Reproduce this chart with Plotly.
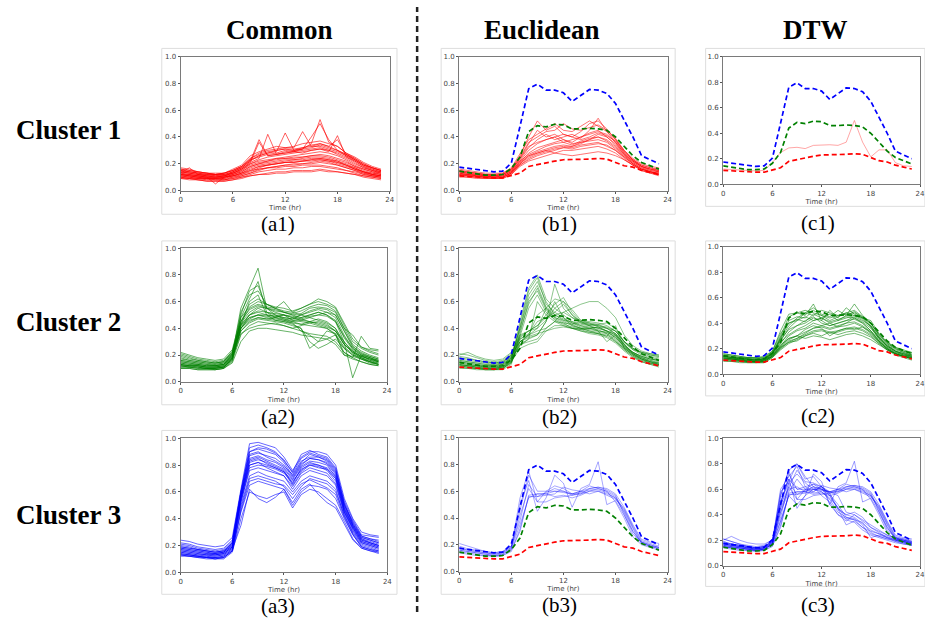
import plotly.graph_objects as go

W, H = 925, 621
HOURS = list(range(24))

# ---------------- data ----------------
centroid_blue = [0.175,0.165,0.155,0.145,0.14,0.145,0.205,0.48,0.76,0.795,0.75,0.75,0.73,0.665,0.71,0.755,0.75,0.725,0.65,0.53,0.40,0.26,0.23,0.20]
centroid_green = [0.145,0.135,0.125,0.115,0.115,0.12,0.165,0.25,0.44,0.485,0.475,0.495,0.49,0.46,0.46,0.465,0.46,0.45,0.40,0.33,0.26,0.21,0.185,0.16]
centroid_red = [0.11,0.105,0.10,0.095,0.095,0.095,0.11,0.13,0.18,0.195,0.21,0.22,0.23,0.23,0.23,0.235,0.24,0.235,0.21,0.185,0.175,0.15,0.135,0.12]

common_c1 = [
    [0.10,0.09,0.08,0.08,0.08,0.08,0.09,0.10,0.11,0.12,0.12,0.13,0.13,0.14,0.14,0.14,0.15,0.14,0.14,0.13,0.12,0.11,0.10,0.09],
    [0.12,0.11,0.10,0.10,0.09,0.10,0.11,0.13,0.15,0.16,0.17,0.17,0.18,0.18,0.19,0.19,0.19,0.18,0.17,0.15,0.14,0.12,0.11,0.10],
    [0.14,0.13,0.12,0.11,0.11,0.11,0.13,0.16,0.20,0.22,0.23,0.24,0.24,0.25,0.25,0.26,0.26,0.25,0.23,0.21,0.18,0.16,0.14,0.13],
    [0.16,0.15,0.14,0.13,0.12,0.13,0.15,0.18,0.24,0.27,0.29,0.30,0.31,0.31,0.32,0.33,0.33,0.31,0.29,0.26,0.23,0.19,0.17,0.15],
    [0.11,0.10,0.09,0.09,0.09,0.09,0.10,0.12,0.14,0.17,0.19,0.20,0.21,0.21,0.22,0.22,0.23,0.22,0.20,0.18,0.16,0.13,0.12,0.11],
    [0.13,0.12,0.11,0.10,0.10,0.11,0.14,0.17,0.22,0.38,0.26,0.27,0.28,0.29,0.28,0.30,0.31,0.30,0.27,0.24,0.20,0.17,0.15,0.13],
    [0.09,0.09,0.08,0.07,0.07,0.07,0.08,0.10,0.12,0.14,0.15,0.16,0.16,0.17,0.17,0.18,0.18,0.17,0.16,0.15,0.13,0.11,0.10,0.09],
    [0.15,0.14,0.13,0.12,0.12,0.12,0.14,0.17,0.23,0.25,0.27,0.28,0.30,0.29,0.31,0.35,0.53,0.36,0.33,0.28,0.24,0.20,0.17,0.15],
    [0.12,0.12,0.11,0.10,0.10,0.10,0.12,0.15,0.19,0.21,0.22,0.24,0.25,0.26,0.27,0.28,0.29,0.28,0.26,0.23,0.19,0.16,0.14,0.12],
    [0.17,0.16,0.14,0.13,0.13,0.13,0.16,0.19,0.26,0.29,0.31,0.33,0.32,0.33,0.35,0.36,0.37,0.35,0.33,0.28,0.25,0.21,0.18,0.16],
    [0.10,0.10,0.09,0.09,0.08,0.08,0.10,0.11,0.13,0.15,0.17,0.18,0.19,0.19,0.20,0.20,0.21,0.20,0.19,0.17,0.15,0.13,0.11,0.10],
    [0.14,0.13,0.12,0.12,0.11,0.12,0.13,0.16,0.21,0.24,0.42,0.27,0.28,0.29,0.30,0.31,0.32,0.30,0.28,0.25,0.22,0.18,0.16,0.14],
    [0.13,0.17,0.12,0.11,0.10,0.11,0.12,0.14,0.18,0.20,0.21,0.22,0.23,0.23,0.24,0.25,0.25,0.24,0.22,0.20,0.17,0.14,0.13,0.12],
    [0.11,0.10,0.10,0.09,0.09,0.09,0.11,0.13,0.17,0.19,0.20,0.21,0.22,0.23,0.23,0.24,0.24,0.23,0.22,0.19,0.17,0.14,0.12,0.11],
    [0.15,0.14,0.13,0.12,0.12,0.12,0.14,0.17,0.22,0.26,0.28,0.29,0.43,0.30,0.31,0.32,0.34,0.32,0.30,0.27,0.23,0.19,0.16,0.14],
    [0.12,0.11,0.10,0.10,0.05,0.10,0.11,0.13,0.16,0.18,0.19,0.20,0.21,0.22,0.22,0.23,0.24,0.23,0.21,0.19,0.16,0.14,0.12,0.11],
    [0.16,0.15,0.14,0.13,0.12,0.13,0.15,0.18,0.24,0.28,0.30,0.31,0.32,0.32,0.44,0.33,0.35,0.33,0.30,0.27,0.24,0.20,0.17,0.15],
    [0.10,0.09,0.09,0.08,0.08,0.08,0.09,0.11,0.13,0.16,0.17,0.18,0.19,0.20,0.20,0.21,0.22,0.21,0.19,0.17,0.15,0.12,0.11,0.10],
    [0.13,0.12,0.11,0.11,0.10,0.11,0.13,0.15,0.20,0.23,0.25,0.26,0.27,0.28,0.29,0.30,0.31,0.29,0.41,0.25,0.21,0.17,0.15,0.13],
    [0.14,0.13,0.12,0.11,0.11,0.11,0.13,0.16,0.21,0.36,0.26,0.27,0.29,0.30,0.31,0.40,0.50,0.38,0.30,0.26,0.22,0.18,0.15,0.14],
    [0.12,0.11,0.11,0.10,0.10,0.10,0.12,0.14,0.18,0.20,0.22,0.23,0.24,0.24,0.25,0.26,0.27,0.26,0.24,0.22,0.18,0.15,0.13,0.12],
    [0.09,0.08,0.08,0.07,0.07,0.07,0.08,0.09,0.11,0.12,0.13,0.14,0.14,0.15,0.15,0.15,0.16,0.15,0.14,0.13,0.12,0.10,0.09,0.08],
    [0.15,0.14,0.13,0.13,0.12,0.13,0.15,0.18,0.23,0.26,0.28,0.30,0.31,0.30,0.32,0.34,0.35,0.33,0.38,0.27,0.23,0.19,0.17,0.15],
    [0.11,0.11,0.10,0.09,0.09,0.10,0.11,0.12,0.15,0.18,0.19,0.20,0.21,0.21,0.22,0.23,0.23,0.22,0.21,0.19,0.16,0.14,0.12,0.11],
]

common_c2 = [
    [0.12,0.11,0.11,0.10,0.10,0.11,0.17,0.40,0.50,0.55,0.52,0.50,0.48,0.47,0.48,0.50,0.52,0.50,0.45,0.30,0.22,0.18,0.15,0.13],
    [0.15,0.14,0.13,0.12,0.12,0.13,0.20,0.55,0.70,0.85,0.55,0.50,0.47,0.45,0.43,0.45,0.47,0.45,0.40,0.28,0.23,0.19,0.17,0.15],
    [0.20,0.18,0.16,0.15,0.14,0.15,0.22,0.45,0.55,0.58,0.56,0.55,0.53,0.52,0.55,0.58,0.60,0.58,0.55,0.42,0.30,0.25,0.22,0.20],
    [0.10,0.10,0.09,0.09,0.09,0.10,0.15,0.35,0.42,0.45,0.44,0.43,0.42,0.40,0.38,0.36,0.35,0.34,0.30,0.22,0.18,0.15,0.13,0.12],
    [0.13,0.12,0.12,0.11,0.11,0.12,0.18,0.48,0.62,0.75,0.52,0.48,0.50,0.46,0.45,0.44,0.42,0.40,0.35,0.25,0.20,0.17,0.15,0.14],
    [0.17,0.16,0.15,0.14,0.13,0.14,0.21,0.42,0.50,0.52,0.50,0.49,0.50,0.48,0.50,0.53,0.55,0.54,0.50,0.38,0.26,0.22,0.19,0.17],
    [0.14,0.13,0.12,0.11,0.11,0.12,0.19,0.38,0.45,0.48,0.47,0.46,0.45,0.43,0.40,0.30,0.25,0.28,0.32,0.25,0.20,0.18,0.16,0.15],
    [0.11,0.11,0.10,0.10,0.10,0.11,0.16,0.50,0.68,0.72,0.55,0.52,0.50,0.48,0.46,0.45,0.44,0.42,0.38,0.28,0.22,0.18,0.15,0.13],
    [0.19,0.17,0.16,0.15,0.14,0.15,0.23,0.44,0.52,0.56,0.55,0.53,0.52,0.50,0.51,0.55,0.56,0.55,0.52,0.40,0.35,0.26,0.24,0.23],
    [0.12,0.12,0.11,0.10,0.10,0.11,0.17,0.36,0.40,0.42,0.43,0.44,0.42,0.40,0.42,0.44,0.45,0.43,0.38,0.30,0.03,0.20,0.16,0.14],
    [0.16,0.15,0.14,0.13,0.12,0.13,0.19,0.45,0.58,0.62,0.58,0.55,0.52,0.50,0.48,0.50,0.52,0.50,0.46,0.33,0.24,0.20,0.18,0.16],
    [0.13,0.12,0.12,0.11,0.11,0.11,0.18,0.40,0.47,0.50,0.48,0.47,0.46,0.44,0.38,0.35,0.30,0.32,0.35,0.22,0.18,0.34,0.25,0.24],
    [0.21,0.19,0.17,0.16,0.15,0.16,0.22,0.42,0.48,0.50,0.50,0.49,0.48,0.47,0.50,0.52,0.54,0.52,0.48,0.35,0.25,0.21,0.19,0.17],
    [0.10,0.10,0.09,0.09,0.09,0.10,0.14,0.30,0.38,0.40,0.40,0.39,0.38,0.37,0.35,0.34,0.33,0.32,0.28,0.20,0.17,0.15,0.13,0.12],
    [0.14,0.13,0.13,0.12,0.12,0.13,0.20,0.52,0.65,0.68,0.58,0.55,0.60,0.52,0.50,0.48,0.46,0.44,0.40,0.30,0.23,0.19,0.17,0.15],
    [0.15,0.14,0.13,0.12,0.12,0.13,0.19,0.40,0.48,0.50,0.49,0.48,0.47,0.46,0.47,0.49,0.50,0.49,0.45,0.34,0.25,0.20,0.18,0.16],
    [0.12,0.11,0.11,0.10,0.10,0.11,0.17,0.38,0.44,0.47,0.46,0.45,0.44,0.42,0.40,0.25,0.30,0.38,0.36,0.20,0.19,0.17,0.14,0.13],
    [0.18,0.16,0.15,0.14,0.14,0.15,0.21,0.45,0.54,0.57,0.55,0.54,0.52,0.51,0.53,0.56,0.58,0.57,0.53,0.40,0.28,0.23,0.20,0.18],
    [0.11,0.11,0.10,0.10,0.09,0.10,0.16,0.42,0.60,0.65,0.50,0.46,0.45,0.44,0.43,0.42,0.41,0.40,0.36,0.26,0.21,0.17,0.15,0.13],
    [0.16,0.15,0.14,0.13,0.13,0.14,0.20,0.43,0.50,0.53,0.52,0.51,0.50,0.49,0.47,0.45,0.43,0.41,0.38,0.28,0.22,0.19,0.17,0.16],
    [0.13,0.12,0.12,0.11,0.11,0.12,0.18,0.40,0.46,0.48,0.47,0.48,0.46,0.45,0.46,0.48,0.50,0.52,0.50,0.38,0.27,0.21,0.18,0.15],
    [0.22,0.20,0.18,0.17,0.16,0.17,0.24,0.48,0.56,0.60,0.58,0.56,0.55,0.53,0.55,0.58,0.62,0.60,0.56,0.44,0.32,0.26,0.23,0.21],
]

common_c3 = [
    [0.15,0.14,0.13,0.12,0.12,0.13,0.18,0.55,0.80,0.82,0.80,0.78,0.75,0.65,0.75,0.80,0.78,0.77,0.70,0.45,0.32,0.22,0.20,0.18],
    [0.20,0.19,0.17,0.16,0.15,0.16,0.22,0.60,0.90,0.92,0.90,0.88,0.82,0.72,0.82,0.88,0.86,0.84,0.76,0.50,0.38,0.27,0.25,0.23],
    [0.13,0.12,0.11,0.11,0.10,0.11,0.16,0.45,0.65,0.68,0.66,0.64,0.62,0.50,0.60,0.65,0.64,0.62,0.55,0.40,0.28,0.19,0.17,0.15],
    [0.18,0.17,0.16,0.15,0.14,0.15,0.20,0.58,0.85,0.87,0.84,0.82,0.78,0.70,0.80,0.85,0.84,0.82,0.74,0.48,0.35,0.25,0.22,0.20],
    [0.24,0.23,0.21,0.20,0.19,0.20,0.26,0.62,0.96,0.97,0.95,0.93,0.86,0.76,0.86,0.90,0.90,0.88,0.80,0.55,0.40,0.30,0.28,0.27],
    [0.14,0.13,0.12,0.12,0.11,0.12,0.17,0.50,0.72,0.75,0.72,0.70,0.68,0.60,0.68,0.72,0.70,0.68,0.62,0.42,0.30,0.21,0.19,0.17],
    [0.16,0.15,0.14,0.13,0.13,0.14,0.19,0.52,0.78,0.80,0.79,0.77,0.74,0.67,0.77,0.80,0.79,0.76,0.68,0.46,0.33,0.23,0.21,0.19],
    [0.12,0.12,0.11,0.10,0.10,0.10,0.15,0.40,0.60,0.57,0.55,0.58,0.60,0.48,0.58,0.62,0.60,0.55,0.50,0.38,0.25,0.18,0.16,0.14],
    [0.19,0.18,0.17,0.16,0.15,0.16,0.21,0.57,0.88,0.90,0.86,0.83,0.79,0.73,0.83,0.86,0.86,0.83,0.75,0.52,0.36,0.26,0.24,0.22],
    [0.17,0.16,0.15,0.14,0.13,0.14,0.19,0.55,0.82,0.84,0.82,0.79,0.76,0.66,0.78,0.82,0.80,0.78,0.72,0.47,0.34,0.24,0.22,0.20],
    [0.22,0.21,0.19,0.18,0.17,0.18,0.24,0.60,0.93,0.95,0.93,0.90,0.83,0.75,0.88,0.91,0.88,0.86,0.78,0.53,0.39,0.28,0.27,0.26],
    [0.13,0.13,0.12,0.11,0.11,0.11,0.16,0.48,0.70,0.72,0.70,0.68,0.64,0.55,0.64,0.70,0.68,0.66,0.60,0.43,0.29,0.20,0.18,0.16],
    [0.15,0.14,0.13,0.13,0.12,0.13,0.18,0.53,0.76,0.78,0.76,0.74,0.72,0.62,0.72,0.76,0.74,0.72,0.65,0.44,0.31,0.22,0.20,0.18],
    [0.18,0.17,0.16,0.15,0.14,0.15,0.21,0.56,0.84,0.86,0.83,0.80,0.77,0.69,0.79,0.83,0.82,0.80,0.71,0.49,0.35,0.25,0.23,0.21],
    [0.14,0.13,0.12,0.11,0.11,0.12,0.17,0.35,0.62,0.55,0.52,0.56,0.62,0.52,0.62,0.66,0.58,0.52,0.48,0.36,0.24,0.18,0.16,0.15],
    [0.21,0.20,0.18,0.17,0.16,0.17,0.23,0.60,0.90,0.93,0.92,0.89,0.84,0.74,0.85,0.89,0.87,0.85,0.77,0.51,0.37,0.27,0.25,0.24],
    [0.16,0.15,0.14,0.13,0.13,0.14,0.19,0.54,0.80,0.82,0.78,0.75,0.72,0.64,0.74,0.78,0.76,0.74,0.66,0.45,0.33,0.23,0.21,0.19],
    [0.13,0.12,0.12,0.11,0.10,0.11,0.16,0.46,0.68,0.70,0.68,0.66,0.65,0.58,0.66,0.69,0.66,0.63,0.58,0.41,0.28,0.19,0.17,0.16],
    [0.19,0.18,0.17,0.16,0.15,0.16,0.22,0.58,0.87,0.89,0.87,0.85,0.80,0.71,0.81,0.85,0.84,0.81,0.73,0.50,0.36,0.26,0.24,0.22],
    [0.17,0.16,0.15,0.14,0.14,0.15,0.20,0.56,0.83,0.85,0.81,0.78,0.75,0.68,0.76,0.81,0.80,0.77,0.70,0.47,0.34,0.24,0.22,0.20],
]

euclid_c1 = [
    [0.12,0.11,0.10,0.10,0.10,0.10,0.13,0.20,0.25,0.28,0.30,0.32,0.33,0.32,0.34,0.35,0.36,0.33,0.30,0.25,0.20,0.16,0.14,0.13],
    [0.14,0.13,0.12,0.11,0.11,0.12,0.15,0.24,0.35,0.45,0.40,0.42,0.38,0.36,0.40,0.43,0.45,0.40,0.34,0.27,0.22,0.18,0.16,0.15],
    [0.10,0.10,0.09,0.09,0.09,0.09,0.12,0.18,0.22,0.24,0.26,0.28,0.30,0.30,0.31,0.32,0.33,0.31,0.28,0.23,0.19,0.15,0.13,0.11],
    [0.15,0.14,0.13,0.12,0.12,0.13,0.16,0.26,0.40,0.52,0.45,0.48,0.42,0.40,0.44,0.50,0.52,0.46,0.38,0.29,0.23,0.19,0.17,0.16],
    [0.13,0.12,0.11,0.11,0.10,0.11,0.14,0.22,0.30,0.35,0.38,0.40,0.36,0.34,0.37,0.39,0.40,0.37,0.32,0.26,0.21,0.17,0.15,0.14],
    [0.11,0.11,0.10,0.10,0.09,0.10,0.13,0.19,0.23,0.26,0.28,0.30,0.32,0.33,0.35,0.38,0.40,0.38,0.33,0.26,0.20,0.16,0.14,0.12],
    [0.16,0.15,0.14,0.13,0.13,0.13,0.17,0.27,0.38,0.42,0.46,0.50,0.45,0.44,0.48,0.52,0.48,0.44,0.38,0.30,0.24,0.20,0.18,0.17],
    [0.12,0.12,0.11,0.10,0.10,0.10,0.13,0.21,0.28,0.32,0.34,0.36,0.38,0.35,0.36,0.38,0.42,0.40,0.35,0.27,0.21,0.17,0.14,0.13],
    [0.14,0.13,0.12,0.12,0.11,0.12,0.15,0.23,0.32,0.38,0.42,0.38,0.40,0.42,0.39,0.45,0.54,0.44,0.36,0.28,0.22,0.18,0.16,0.14],
    [0.11,0.10,0.10,0.09,0.09,0.09,0.12,0.19,0.24,0.27,0.29,0.31,0.32,0.31,0.33,0.34,0.35,0.34,0.30,0.24,0.19,0.15,0.13,0.12],
    [0.13,0.12,0.12,0.11,0.11,0.11,0.14,0.22,0.27,0.30,0.33,0.35,0.36,0.38,0.40,0.42,0.44,0.42,0.36,0.28,0.22,0.18,0.15,0.14],
    [0.15,0.14,0.13,0.12,0.12,0.12,0.16,0.25,0.36,0.40,0.44,0.45,0.50,0.46,0.45,0.47,0.49,0.45,0.39,0.30,0.23,0.19,0.17,0.15],
    [0.12,0.11,0.11,0.10,0.10,0.10,0.13,0.20,0.26,0.29,0.31,0.33,0.34,0.33,0.36,0.37,0.38,0.36,0.31,0.25,0.20,0.16,0.14,0.12],
    [0.14,0.13,0.13,0.12,0.11,0.12,0.15,0.24,0.33,0.36,0.38,0.40,0.42,0.40,0.38,0.40,0.43,0.41,0.37,0.29,0.23,0.18,0.16,0.15],
    [0.13,0.12,0.11,0.11,0.10,0.11,0.14,0.21,0.26,0.28,0.30,0.28,0.27,0.26,0.27,0.28,0.29,0.28,0.26,0.23,0.19,0.16,0.14,0.13],
]

euclid_c2 = [
    [0.13,0.12,0.11,0.10,0.10,0.11,0.16,0.45,0.70,0.80,0.62,0.55,0.50,0.45,0.42,0.40,0.39,0.36,0.30,0.25,0.20,0.17,0.15,0.14],
    [0.15,0.14,0.13,0.12,0.12,0.13,0.18,0.40,0.65,0.75,0.60,0.50,0.46,0.43,0.40,0.40,0.41,0.38,0.33,0.27,0.22,0.19,0.17,0.16],
    [0.12,0.11,0.10,0.10,0.09,0.10,0.15,0.30,0.35,0.40,0.55,0.62,0.60,0.50,0.45,0.42,0.40,0.38,0.35,0.28,0.21,0.18,0.15,0.13],
    [0.20,0.22,0.19,0.17,0.16,0.17,0.22,0.35,0.38,0.42,0.50,0.58,0.63,0.52,0.45,0.43,0.42,0.40,0.38,0.30,0.25,0.22,0.20,0.19],
    [0.14,0.13,0.12,0.11,0.11,0.12,0.17,0.28,0.30,0.32,0.40,0.45,0.44,0.43,0.45,0.44,0.43,0.40,0.36,0.28,0.22,0.18,0.16,0.14],
    [0.11,0.10,0.10,0.09,0.09,0.10,0.14,0.38,0.58,0.70,0.55,0.48,0.45,0.42,0.40,0.38,0.37,0.36,0.32,0.25,0.20,0.16,0.14,0.12],
    [0.16,0.15,0.14,0.13,0.13,0.14,0.19,0.30,0.33,0.35,0.45,0.73,0.55,0.48,0.44,0.43,0.42,0.41,0.38,0.30,0.24,0.20,0.18,0.17],
    [0.18,0.17,0.16,0.15,0.14,0.15,0.20,0.30,0.35,0.38,0.40,0.45,0.52,0.55,0.58,0.60,0.60,0.55,0.48,0.35,0.27,0.23,0.21,0.20],
    [0.13,0.12,0.11,0.11,0.10,0.11,0.16,0.42,0.68,0.78,0.58,0.52,0.48,0.44,0.41,0.40,0.38,0.37,0.34,0.26,0.21,0.17,0.15,0.13],
    [0.12,0.11,0.10,0.10,0.10,0.10,0.15,0.25,0.28,0.30,0.38,0.42,0.42,0.40,0.40,0.39,0.38,0.37,0.33,0.26,0.20,0.17,0.14,0.13],
    [0.17,0.16,0.15,0.14,0.13,0.14,0.19,0.32,0.36,0.45,0.48,0.52,0.58,0.50,0.44,0.42,0.43,0.44,0.40,0.30,0.25,0.21,0.19,0.18],
    [0.10,0.10,0.09,0.09,0.09,0.09,0.13,0.35,0.55,0.65,0.52,0.47,0.44,0.40,0.38,0.36,0.35,0.33,0.29,0.23,0.18,0.15,0.13,0.11],
    [0.14,0.13,0.12,0.12,0.11,0.12,0.17,0.27,0.32,0.60,0.50,0.45,0.42,0.40,0.38,0.37,0.36,0.34,0.42,0.25,0.21,0.18,0.16,0.15],
    [0.21,0.20,0.18,0.16,0.15,0.16,0.21,0.33,0.38,0.40,0.46,0.55,0.60,0.54,0.46,0.44,0.41,0.38,0.36,0.29,0.24,0.22,0.21,0.20],
    [0.12,0.12,0.11,0.10,0.10,0.11,0.15,0.28,0.32,0.35,0.45,0.60,0.48,0.42,0.40,0.38,0.36,0.34,0.30,0.24,0.19,0.16,0.14,0.13],
    [0.15,0.14,0.13,0.12,0.12,0.13,0.18,0.40,0.62,0.72,0.56,0.50,0.47,0.44,0.42,0.41,0.40,0.38,0.35,0.27,0.22,0.19,0.17,0.16],
    [0.13,0.12,0.12,0.11,0.11,0.11,0.16,0.30,0.34,0.36,0.38,0.40,0.41,0.40,0.39,0.40,0.41,0.40,0.36,0.28,0.21,0.17,0.15,0.14],
    [0.16,0.15,0.14,0.13,0.12,0.13,0.18,0.32,0.35,0.50,0.55,0.48,0.46,0.45,0.43,0.42,0.38,0.30,0.35,0.26,0.22,0.19,0.17,0.16],
    [0.11,0.11,0.10,0.09,0.09,0.10,0.14,0.36,0.60,0.68,0.54,0.46,0.43,0.41,0.39,0.37,0.36,0.35,0.31,0.24,0.19,0.15,0.13,0.12],
    [0.19,0.18,0.16,0.15,0.14,0.15,0.20,0.34,0.38,0.42,0.48,0.50,0.52,0.48,0.46,0.45,0.44,0.42,0.38,0.30,0.25,0.22,0.20,0.19],
]

euclid_c3 = [
    [0.21,0.19,0.17,0.15,0.14,0.15,0.19,0.45,0.72,0.60,0.60,0.60,0.59,0.58,0.60,0.62,0.63,0.62,0.58,0.48,0.35,0.24,0.22,0.21],
    [0.16,0.15,0.14,0.13,0.12,0.13,0.17,0.35,0.55,0.58,0.58,0.56,0.57,0.55,0.57,0.60,0.60,0.58,0.55,0.45,0.32,0.21,0.19,0.17],
    [0.18,0.16,0.15,0.14,0.13,0.14,0.18,0.50,0.68,0.45,0.55,0.72,0.66,0.48,0.62,0.65,0.82,0.50,0.53,0.42,0.30,0.22,0.20,0.18],
    [0.15,0.14,0.13,0.12,0.12,0.12,0.16,0.30,0.57,0.58,0.58,0.60,0.60,0.58,0.58,0.60,0.62,0.60,0.56,0.46,0.33,0.22,0.19,0.17],
    [0.17,0.16,0.15,0.14,0.13,0.14,0.18,0.55,0.75,0.52,0.52,0.55,0.56,0.57,0.59,0.61,0.61,0.59,0.55,0.44,0.30,0.21,0.19,0.18],
    [0.14,0.13,0.12,0.12,0.11,0.12,0.15,0.32,0.56,0.56,0.57,0.58,0.63,0.61,0.60,0.64,0.62,0.60,0.52,0.40,0.26,0.20,0.18,0.16],
    [0.16,0.15,0.14,0.13,0.12,0.13,0.17,0.42,0.62,0.52,0.60,0.64,0.62,0.58,0.60,0.58,0.60,0.57,0.54,0.47,0.34,0.23,0.21,0.19],
    [0.19,0.17,0.16,0.15,0.14,0.15,0.19,0.38,0.65,0.56,0.59,0.62,0.60,0.57,0.58,0.62,0.63,0.61,0.57,0.43,0.28,0.22,0.20,0.18],
]

dtw_c1 = [
    [0.12,0.115,0.11,0.105,0.105,0.11,0.17,0.25,0.285,0.29,0.28,0.305,0.31,0.31,0.305,0.33,0.50,0.33,0.215,0.27,0.27,0.17,0.145,0.14],
]

dtw_c2 = [
    [0.12,0.11,0.11,0.10,0.10,0.10,0.14,0.22,0.30,0.34,0.36,0.40,0.38,0.36,0.38,0.40,0.41,0.38,0.33,0.26,0.21,0.17,0.15,0.13],
    [0.14,0.13,0.12,0.12,0.11,0.12,0.16,0.28,0.42,0.45,0.44,0.50,0.46,0.42,0.45,0.48,0.50,0.45,0.38,0.29,0.23,0.19,0.17,0.15],
    [0.10,0.10,0.09,0.09,0.09,0.09,0.13,0.19,0.24,0.27,0.30,0.33,0.34,0.32,0.33,0.35,0.36,0.34,0.30,0.24,0.19,0.15,0.13,0.11],
    [0.15,0.14,0.13,0.13,0.12,0.13,0.17,0.30,0.45,0.48,0.46,0.55,0.42,0.50,0.44,0.52,0.47,0.44,0.40,0.30,0.24,0.20,0.18,0.16],
    [0.13,0.12,0.11,0.11,0.10,0.11,0.15,0.24,0.33,0.38,0.42,0.45,0.40,0.38,0.40,0.42,0.43,0.40,0.34,0.27,0.21,0.17,0.15,0.14],
    [0.11,0.11,0.10,0.10,0.09,0.10,0.14,0.20,0.26,0.28,0.32,0.36,0.38,0.40,0.37,0.40,0.44,0.40,0.34,0.26,0.20,0.16,0.14,0.12],
    [0.16,0.15,0.14,0.13,0.13,0.14,0.18,0.32,0.40,0.42,0.48,0.52,0.47,0.45,0.50,0.46,0.55,0.46,0.40,0.31,0.25,0.21,0.19,0.17],
    [0.12,0.12,0.11,0.10,0.10,0.10,0.14,0.23,0.28,0.30,0.35,0.38,0.36,0.30,0.34,0.36,0.35,0.37,0.33,0.26,0.20,0.16,0.14,0.13],
    [0.14,0.13,0.12,0.12,0.11,0.12,0.16,0.26,0.36,0.42,0.45,0.42,0.44,0.47,0.42,0.46,0.49,0.44,0.37,0.28,0.22,0.18,0.16,0.14],
    [0.11,0.10,0.10,0.09,0.09,0.09,0.13,0.20,0.25,0.28,0.31,0.34,0.35,0.33,0.34,0.36,0.37,0.35,0.31,0.25,0.20,0.16,0.14,0.12],
    [0.13,0.12,0.12,0.11,0.11,0.11,0.15,0.25,0.31,0.35,0.38,0.42,0.44,0.40,0.42,0.44,0.46,0.43,0.37,0.28,0.22,0.18,0.15,0.14],
    [0.15,0.14,0.13,0.12,0.12,0.12,0.17,0.28,0.38,0.44,0.48,0.46,0.50,0.48,0.46,0.47,0.48,0.45,0.40,0.31,0.24,0.20,0.17,0.15],
    [0.12,0.11,0.11,0.10,0.10,0.10,0.14,0.21,0.27,0.30,0.33,0.36,0.37,0.35,0.37,0.38,0.40,0.37,0.32,0.25,0.20,0.16,0.14,0.12],
    [0.14,0.13,0.13,0.12,0.11,0.12,0.16,0.27,0.35,0.38,0.40,0.44,0.42,0.38,0.40,0.42,0.45,0.42,0.38,0.29,0.23,0.18,0.16,0.15],
    [0.13,0.12,0.11,0.11,0.10,0.11,0.15,0.22,0.28,0.30,0.28,0.30,0.29,0.27,0.29,0.31,0.32,0.30,0.27,0.23,0.19,0.16,0.14,0.13],
    [0.16,0.15,0.14,0.13,0.13,0.13,0.18,0.34,0.47,0.48,0.50,0.48,0.46,0.44,0.46,0.48,0.46,0.44,0.42,0.32,0.25,0.21,0.18,0.17],
    [0.12,0.12,0.11,0.10,0.10,0.11,0.14,0.21,0.25,0.26,0.30,0.32,0.30,0.33,0.31,0.33,0.34,0.32,0.29,0.24,0.19,0.16,0.14,0.13],
    [0.14,0.13,0.12,0.11,0.11,0.12,0.16,0.29,0.40,0.43,0.41,0.47,0.44,0.41,0.43,0.45,0.44,0.41,0.36,0.28,0.22,0.18,0.16,0.14],
]

dtw_c3_extra = [
    [0.17,0.16,0.15,0.14,0.13,0.14,0.18,0.55,0.75,0.80,0.70,0.62,0.60,0.55,0.45,0.40,0.38,0.33,0.28,0.25,0.22,0.20,0.19,0.17],
    [0.20,0.23,0.20,0.18,0.17,0.17,0.20,0.50,0.65,0.72,0.65,0.60,0.58,0.52,0.42,0.38,0.36,0.30,0.25,0.23,0.21,0.20,0.19,0.18],
    [0.15,0.14,0.13,0.13,0.12,0.13,0.17,0.45,0.60,0.62,0.58,0.62,0.55,0.50,0.40,0.35,0.40,0.35,0.30,0.26,0.22,0.19,0.17,0.16],
    [0.18,0.17,0.16,0.15,0.14,0.15,0.19,0.60,0.70,0.78,0.62,0.58,0.62,0.56,0.48,0.38,0.37,0.32,0.22,0.24,0.22,0.21,0.20,0.19],
    [0.16,0.15,0.14,0.13,0.12,0.13,0.17,0.35,0.55,0.48,0.55,0.60,0.62,0.57,0.45,0.32,0.35,0.30,0.27,0.25,0.23,0.20,0.18,0.17],
    [0.21,0.19,0.17,0.16,0.15,0.16,0.20,0.50,0.68,0.60,0.62,0.64,0.60,0.58,0.55,0.42,0.40,0.36,0.32,0.28,0.24,0.22,0.21,0.20],
    [0.17,0.16,0.15,0.14,0.13,0.14,0.18,0.48,0.62,0.75,0.66,0.65,0.62,0.48,0.40,0.37,0.36,0.34,0.26,0.23,0.21,0.19,0.18,0.17],
    [0.19,0.17,0.16,0.15,0.14,0.15,0.19,0.58,0.66,0.80,0.68,0.70,0.62,0.55,0.44,0.40,0.42,0.38,0.30,0.27,0.24,0.21,0.20,0.19],
    [0.15,0.14,0.14,0.13,0.13,0.13,0.17,0.42,0.58,0.68,0.60,0.57,0.58,0.53,0.46,0.36,0.34,0.28,0.24,0.22,0.20,0.18,0.17,0.16],
]
dtw_c3 = euclid_c3 + dtw_c3_extra

x_ticks = [0, 6, 12, 18, 24]
y_ticks = [0.0, 0.2, 0.4, 0.6, 0.8, 1.0]
col_titles = ["Common", "Euclidean", "DTW"]
row_titles = ["Cluster 1", "Cluster 2", "Cluster 3"]
panel_labels = [["(a1)", "(b1)", "(c1)"], ["(a2)", "(b2)", "(c2)"], ["(a3)", "(b3)", "(c3)"]]

# ---------------- layout geometry (pixels) ----------------
axes_px = [
    [[180, 390.7, 53.3, 189.0], [460.7, 670.7, 53.3, 189.0], [726.7, 925.0, 53.3, 182.7]],
    [[180, 388.0, 247.3, 382.7], [460.7, 670.7, 247.3, 382.7], [726.7, 925.0, 245.7, 375.0]],
    [[180, 388.3, 440.0, 575.7], [460.7, 670.7, 439.3, 575.0], [726.7, 925.0, 440.0, 569.0]],
]
frames_px = [
    [[161, 398, 45, 213], [442.5, 678.3, 45, 213], [709, 930, 45, 205]],
    [[161, 398, 240, 406], [442.5, 678.3, 240, 406], [709, 930, 240, 397]],
    [[161, 398, 432, 598], [442.5, 678.3, 432, 598], [709, 930, 432, 590]],
]
label_pos = [
    [(278, 223), (562, 223), (822, 222)],
    [(278, 418), (562, 418), (822, 417)],
    [(278, 610), (562, 609), (822, 609)],
]

def px(x):
    return x / W

def py(y):
    return 1 - y / H

fig = go.Figure()

panel_data = [
    [(common_c1, "rgba(255,0,0,0.62)"), (euclid_c1, "rgba(255,0,0,0.55)"), (dtw_c1, "rgba(255,80,80,0.5)")],
    [(common_c2, "rgba(0,128,0,0.6)"), (euclid_c2, "rgba(0,128,0,0.45)"), (dtw_c2, "rgba(0,128,0,0.55)")],
    [(common_c3, "rgba(0,0,255,0.6)"), (euclid_c3, "rgba(0,0,255,0.35)"), (dtw_c3, "rgba(0,0,255,0.38)")],
]

layout_axes = {}
shapes = []
annotations = []
idx = 0
for r in range(3):
    for c in range(3):
        idx += 1
        xa = "x" if idx == 1 else f"x{idx}"
        ya = "y" if idx == 1 else f"y{idx}"
        x0, x1, y0, y1 = axes_px[r][c]
        lines, color = panel_data[r][c]
        for ln in lines:
            fig.add_trace(go.Scatter(x=HOURS, y=ln, mode="lines", xaxis=xa, yaxis=ya,
                                     line=dict(color=color, width=1.0), showlegend=False,
                                     hoverinfo="skip"))
        if c > 0:
            for cen, col in [(centroid_blue, "#0000ff"), (centroid_green, "#008000"), (centroid_red, "#ff0000")]:
                fig.add_trace(go.Scatter(x=HOURS, y=cen, mode="lines", xaxis=xa, yaxis=ya,
                                         line=dict(color=col, width=1.7, dash="5px,3px"),
                                         showlegend=False, hoverinfo="skip"))
        axkey = "xaxis" if idx == 1 else f"xaxis{idx}"
        aykey = "yaxis" if idx == 1 else f"yaxis{idx}"
        layout_axes[axkey] = dict(
            domain=[px(x0), min(px(x1), 1.0)], anchor=ya, range=[0, 24],
            tickvals=x_ticks, ticktext=[str(t) for t in x_ticks],
            ticks="outside", ticklen=2, tickwidth=0.8, tickcolor="#555",
            tickfont=dict(size=7, family="DejaVu Sans", color="#444"),
            showline=True, mirror=True, linecolor="#7a7a7a", linewidth=1.2,
            showgrid=False, zeroline=False,
            title=dict(text="Time (hr)", font=dict(size=7, family="DejaVu Sans", color="#444"), standoff=2),
        )
        layout_axes[aykey] = dict(
            domain=[py(y1), py(y0)], anchor=xa, range=[0, 1],
            tickvals=y_ticks, ticktext=[f"{t:.1f}" for t in y_ticks],
            ticks="outside", ticklen=2, tickwidth=0.8, tickcolor="#555",
            tickfont=dict(size=7, family="DejaVu Sans", color="#444"),
            showline=True, mirror=True, linecolor="#7a7a7a", linewidth=1.2,
            showgrid=False, zeroline=False,
        )
        fx0, fx1, fy0, fy1 = frames_px[r][c]
        shapes.append(dict(type="rect", xref="paper", yref="paper",
                           x0=px(fx0), x1=px(fx1), y0=py(fy1), y1=py(fy0),
                           line=dict(color="#dddddd", width=1), layer="below"))
        lx, ly = label_pos[r][c]
        annotations.append(dict(text=panel_labels[r][c], x=px(lx), y=py(ly), xref="paper", yref="paper",
                                showarrow=False, xanchor="center", yanchor="middle",
                                font=dict(size=21, family="Liberation Serif, serif", color="black")))

col_x = [280, 544, 820]
for t, cx in zip(col_titles, col_x):
    annotations.append(dict(text=f"<b>{t}</b>", x=px(cx), y=py(26), xref="paper", yref="paper",
                            showarrow=False, xanchor="center", yanchor="middle",
                            font=dict(size=27, family="Liberation Serif, serif", color="black")))
row_y = [128, 322, 518]
for t, ry in zip(row_titles, row_y):
    annotations.append(dict(text=f"<b>{t}</b>", x=px(67), y=py(ry), xref="paper", yref="paper",
                            showarrow=False, xanchor="center", yanchor="middle",
                            font=dict(size=27, family="Liberation Serif, serif", color="black")))

shapes.append(dict(type="line", xref="paper", yref="paper", x0=px(418.3), x1=px(418.3),
                   y0=py(616), y1=py(3), line=dict(color="#222222", width=2.5, dash="6px,4px")))

fig.update_layout(width=W, height=H, margin=dict(l=0, r=0, t=0, b=0),
                  paper_bgcolor="white", plot_bgcolor="white",
                  shapes=shapes, annotations=annotations, showlegend=False, **layout_axes)

fig.write_html("out.html")
